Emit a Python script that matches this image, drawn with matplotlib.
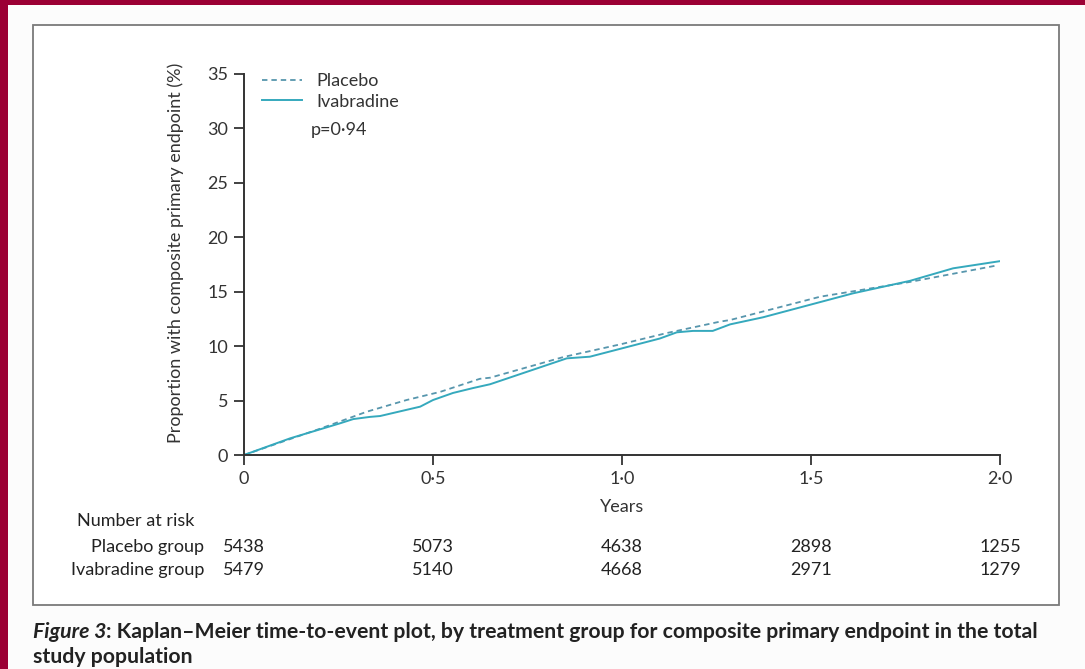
import matplotlib
matplotlib.use("Agg")
import matplotlib.pyplot as plt
from matplotlib.patches import Rectangle
from matplotlib.transforms import blended_transform_factory
from matplotlib.lines import Line2D

plt.rcParams['font.family'] = ['Lato', 'DejaVu Sans']

# Kaplan-Meier cumulative incidence (%)
placebo_years = [0.0, 0.10, 0.20, 0.325, 0.43, 0.519, 0.624, 0.651, 0.845, 1.0, 1.118, 1.259, 1.286, 1.524, 1.762, 1.99]
placebo_pct = [0.0, 1.2, 2.4, 3.98, 5.05, 5.8, 7.0, 7.1, 9.0, 10.2, 11.2, 12.25, 12.4, 14.54, 15.9, 17.4]

ivabradine_years = [0.0, 0.122, 0.254, 0.289, 0.333, 0.36, 0.466, 0.5, 0.553, 0.606, 0.651, 0.854, 0.915, 1.1, 1.145,
                    1.188, 1.24, 1.286, 1.373, 1.611, 1.762, 1.876, 2.008]
ivabradine_pct = [0.0, 1.53, 2.91, 3.3, 3.5, 3.58, 4.44, 5.05, 5.7, 6.15, 6.5, 8.88, 9.03, 10.7, 11.27,
                  11.4, 11.4, 12.0, 12.65, 14.85, 16.0, 17.15, 17.85]

x_ticks = [0, 0.5, 1.0, 1.5, 2.0]
x_tick_labels = ["0", "0·5", "1·0", "1·5", "2·0"]
y_ticks = [0, 5, 10, 15, 20, 25, 30, 35]

risk_groups = ["Placebo group", "Ivabradine group"]
risk_placebo = [5438, 5073, 4638, 2898, 1255]
risk_ivabradine = [5479, 5140, 4668, 2971, 1279]

W, H = 1085, 669
FS = 13
fig = plt.figure(figsize=(W / 100, H / 100), dpi=100)
fig.patch.set_facecolor('#fcfcfc')

def px_rect(x0, y0, x1, y1, **kw):
    return Rectangle((x0 / W, 1 - y1 / H), (x1 - x0) / W, (y1 - y0) / H,
                     transform=fig.transFigure, **kw)

crimson = '#9b0034'
fig.patches.append(px_rect(0, 0, W, 5, facecolor=crimson, edgecolor='none', zorder=-3))
fig.patches.append(px_rect(0, 0, 8, H, facecolor=crimson, edgecolor='none', zorder=-3))
fig.patches.append(px_rect(33, 25, 1059, 605, facecolor='white', edgecolor='#7a7a7a', linewidth=1.3, zorder=-2))

ax = fig.add_axes([244 / W, 1 - 455 / H, (1000 - 244) / W, (455 - 74) / H], zorder=2)
ax.set_facecolor('none')

line_col = '#35a9bd'
dash_col = '#5796ad'
ax.plot(placebo_years, placebo_pct, color=dash_col, lw=1.3, ls=(0, (3, 2.2)))
ax.plot(ivabradine_years, ivabradine_pct, color=line_col, lw=1.4)

ax.set_xlim(0, 2.0)
ax.set_ylim(0, 35)
ax.set_xticks(x_ticks)
ax.set_xticklabels(x_tick_labels)
ax.set_yticks(y_ticks)
for s in ['top', 'right']:
    ax.spines[s].set_visible(False)
for s in ['left', 'bottom']:
    ax.spines[s].set_color('#333333')
    ax.spines[s].set_linewidth(1.4)
ax.tick_params(direction='out', length=7.5, width=1.3, color='#333333',
               labelsize=FS, labelcolor='#333333', pad=4)

ax.set_ylabel("Proportion with composite primary endpoint (%)", fontsize=FS, color='#333333')
ax.yaxis.set_label_coords(-0.08, 0.53)
ax.set_xlabel("Years", fontsize=FS, color='#333333', labelpad=9)

# legend
handles = [Line2D([], [], color=dash_col, lw=1.3, ls=(0, (3, 2.2))),
           Line2D([], [], color=line_col, lw=1.4)]
leg = ax.legend(handles, ["Placebo", "Ivabradine"], loc='upper left', bbox_to_anchor=(0.0, 1.05),
                frameon=False, fontsize=FS, handlelength=2.2, handletextpad=0.8, labelspacing=0.25,
                borderaxespad=0.6)
for t in leg.get_texts():
    t.set_color('#333333')
fig.text(311 / W, 1 - 130 / H, "p=0·94", fontsize=FS, color='#333333', va='center', ha='left')

# number at risk table
blend = blended_transform_factory(ax.transData, fig.transFigure)
fig.text(77 / W, 1 - 521 / H, "Number at risk", fontsize=FS, color='#222222', va='center', ha='left')
rows = [risk_placebo, risk_ivabradine]
for i, (grp, vals) in enumerate(zip(risk_groups, rows)):
    yy = 1 - (547 + 23 * i) / H
    fig.text(204 / W, yy, grp, fontsize=FS, color='#222222', va='center', ha='right')
    for xv, n in zip(x_ticks, vals):
        fig.text(xv, yy, str(n), transform=blend, fontsize=FS, color='#222222', va='center', ha='center')

# caption
CFS = 15.3
cap_y = 1 - 632 / H
t1 = fig.text(33 / W, cap_y, "Figure 3", fontsize=CFS, fontweight='bold', style='italic',
              color='#222222', va='center', ha='left')
fig.canvas.draw()
bb = t1.get_window_extent()
fig.text(bb.x1 / W, cap_y,
         ": Kaplan–Meier time-to-event plot, by treatment group for composite primary endpoint in the total",
         fontsize=CFS, fontweight='bold', color='#222222', va='center', ha='left')
fig.text(33 / W, 1 - 657 / H, "study population", fontsize=CFS, fontweight='bold',
         color='#222222', va='center', ha='left')

fig.savefig("out.png", dpi=100, facecolor=fig.get_facecolor())
